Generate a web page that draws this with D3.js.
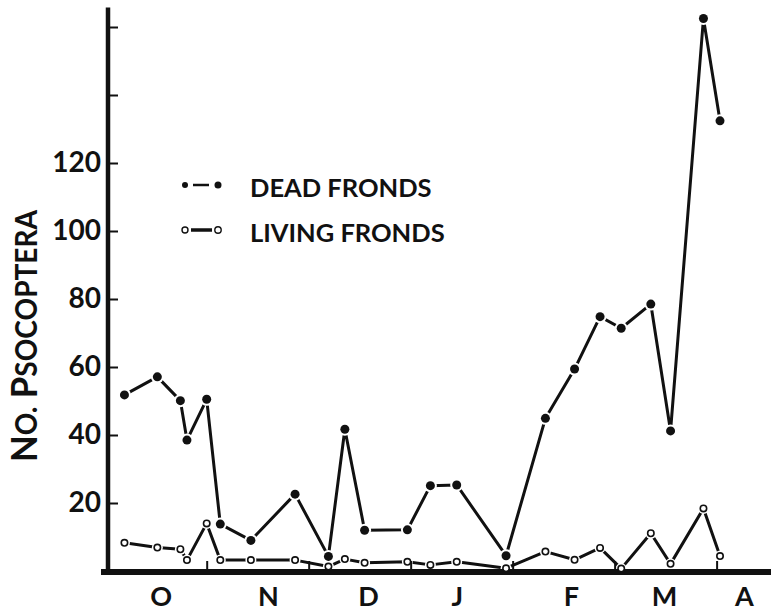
<!DOCTYPE html>
<html>
<head>
<meta charset="utf-8">
<script src="https://cdn.jsdelivr.net/npm/d3@7"></script>
<style>
  body { margin: 0; background: #fff; }
  svg { display: block; }
</style>
</head>
<body>
<svg id="chart" width="771" height="614"></svg>
<script>
// Sampling dates (October to April) and mean number of Psocoptera per sample
const sampleDates = ["Oct 7", "Oct 17", "Oct 24", "Oct 26", "Nov 1", "Nov 5", "Nov 14", "Nov 27",
  "Dec 7", "Dec 12", "Dec 18", "Dec 31", "Jan 7", "Jan 15", "Jan 30", "Feb 10", "Feb 18",
  "Feb 25", "Mar 3", "Mar 12", "Mar 18", "Mar 28", "Apr 2"];
const deadFronds = [51.8, 57.1, 50.1, 38.5, 50.5, 13.8, 9.0, 22.6, 4.3, 41.7, 12.0, 12.1,
  25.1, 25.3, 4.5, 44.9, 59.4, 74.8, 71.4, 78.5, 41.2, 162.5, 132.4];
const livingFronds = [8.3, 6.9, 6.4, 3.2, 14.0, 3.2, 3.2, 3.2, 1.3, 3.5, 2.4, 2.7,
  1.8, 2.7, 0.8, 5.7, 3.3, 6.8, 0.7, 11.1, 2.1, 18.4, 4.4];

// Calendar used on the time axis: every month gets the same width
const months = ["Oct", "Nov", "Dec", "Jan", "Feb", "Mar", "Apr"];
const monthDays = [31, 30, 31, 31, 28, 31, 30];
const monthLetters = ["O", "N", "D", "J", "F", "M", "A"];
const monthLetterDates = ["Oct 18", "Nov 19", "Dec 19", "Jan 15", "Feb 17", "Mar 16", "Apr 9"];
const monthBoundaries = ["Nov 1", "Dec 1", "Jan 1", "Feb 1", "Mar 1", "Apr 1"];
const axisStart = "Oct 2";
const axisEnd = "Apr 17";

// Count axis
const yTicks = [20, 40, 60, 80, 100, 120, 140, 160];
const yTickLabels = ["20", "40", "60", "80", "100", "120", "", ""];
const yMax = 166;

const seriesNames = ["DEAD FRONDS", "LIVING FRONDS"];
const yTitleParts = [["N", "big"], ["O.", "small"], [" P", "big"], ["SOCOPTERA", "small"]];

// "Oct 7" -> months since 1 October
function monthPos(s) {
  const [m, d] = s.split(" ");
  const i = months.indexOf(m);
  return i + (+d - 1) / monthDays[i];
}

const FONT = "Lato, 'Open Sans', 'DejaVu Sans', sans-serif";
const svg = d3.select("#chart");

const plot = { left: 108, right: 771, bottom: 571 };

const x = d3.scaleLinear()
  .domain([monthPos(axisStart), monthPos(axisEnd)])
  .range([plot.left, plot.right]);
const y = d3.scaleLinear()
  .domain([0, yMax])
  .range([plot.bottom, plot.bottom - yMax * 3.4]);

const dead = sampleDates.map((d, i) => ({ x: monthPos(d), v: deadFronds[i] }));
const living = sampleDates.map((d, i) => ({ x: monthPos(d), v: livingFronds[i] }));

const line = d3.line().x(d => x(d.x)).y(d => y(d.v));

// Series lines
const gLines = svg.append("g");
[dead, living].forEach(s => {
  gLines.append("path")
    .attr("d", line(s))
    .attr("fill", "none")
    .attr("stroke", "#111")
    .attr("stroke-width", 3)
    .attr("stroke-linejoin", "round");
});

// White halos leave a small gap between the lines and each marker
const gHalo = svg.append("g");
dead.forEach(d => gHalo.append("circle")
  .attr("cx", x(d.x)).attr("cy", y(d.v)).attr("r", 6.5).attr("fill", "#fff"));
living.forEach(d => gHalo.append("circle")
  .attr("cx", x(d.x)).attr("cy", y(d.v)).attr("r", 5.5).attr("fill", "#fff"));

// Y axis: ticks pointing into the plot, labels on the left
const yAxis = d3.axisLeft(y)
  .tickValues(yTicks)
  .tickFormat((d, i) => yTickLabels[i])
  .tickSizeInner(-10)
  .tickSizeOuter(0)
  .tickPadding(7);
const gy = svg.append("g")
  .attr("transform", `translate(${plot.left},0)`)
  .call(yAxis);
gy.select(".domain").remove();
gy.selectAll(".tick line").attr("stroke", "#111").attr("stroke-width", 2);
gy.selectAll(".tick text")
  .attr("fill", "#111")
  .style("font-family", FONT)
  .style("font-weight", "bold")
  .style("font-size", "28px");

// X axis: short upward ticks at month boundaries
const xAxis = d3.axisBottom(x)
  .tickValues(monthBoundaries.map(monthPos))
  .tickFormat("")
  .tickSizeInner(-10)
  .tickSizeOuter(0);
const gx = svg.append("g")
  .attr("transform", `translate(0,${plot.bottom})`)
  .call(xAxis);
gx.select(".domain").remove();
gx.selectAll(".tick line").attr("stroke", "#111").attr("stroke-width", 2);

// Month initials
const xLabels = d3.axisBottom(x)
  .tickValues(monthLetterDates.map(monthPos))
  .tickFormat((d, i) => monthLetters[i])
  .tickSize(0)
  .tickPadding(16);
const gxl = svg.append("g")
  .attr("transform", `translate(0,${plot.bottom})`)
  .call(xLabels);
gxl.select(".domain").remove();
gxl.selectAll(".tick text")
  .attr("fill", "#111")
  .style("font-family", FONT)
  .style("font-weight", "bold")
  .style("font-size", "27px");

// Axis lines
svg.append("line")
  .attr("x1", plot.left).attr("x2", plot.left)
  .attr("y1", y(yMax) + 1).attr("y2", plot.bottom + 2)
  .attr("stroke", "#111").attr("stroke-width", 4.5);
svg.append("line")
  .attr("x1", plot.left - 7).attr("x2", plot.right)
  .attr("y1", plot.bottom + 1).attr("y2", plot.bottom + 1)
  .attr("stroke", "#111").attr("stroke-width", 6);

// Markers
const gMarks = svg.append("g");
dead.forEach(d => gMarks.append("circle")
  .attr("cx", x(d.x)).attr("cy", y(d.v)).attr("r", 4.5).attr("fill", "#111"));
living.forEach(d => gMarks.append("circle")
  .attr("cx", x(d.x)).attr("cy", y(d.v)).attr("r", 3.2)
  .attr("fill", "#fff").attr("stroke", "#111").attr("stroke-width", 1.6));

// Legend
const legend = svg.append("g").attr("transform", "translate(185,185)");
const rowGap = 45;
// dead fronds key: dot, dash, dot
const k0 = legend.append("g");
k0.append("circle").attr("cx", 0).attr("cy", 0).attr("r", 3).attr("fill", "#111");
k0.append("line").attr("x1", 8).attr("x2", 24).attr("y1", 0).attr("y2", 0)
  .attr("stroke", "#111").attr("stroke-width", 2.5);
k0.append("circle").attr("cx", 33).attr("cy", 0).attr("r", 3.5).attr("fill", "#111");
// living fronds key: open circle, dash, open circle
const k1 = legend.append("g").attr("transform", `translate(0,${rowGap})`);
k1.append("circle").attr("cx", 0).attr("cy", 0).attr("r", 3)
  .attr("fill", "#fff").attr("stroke", "#111").attr("stroke-width", 1.4);
k1.append("line").attr("x1", 6).attr("x2", 27).attr("y1", 0).attr("y2", 0)
  .attr("stroke", "#111").attr("stroke-width", 3.5);
k1.append("circle").attr("cx", 33).attr("cy", 0).attr("r", 3.2)
  .attr("fill", "#fff").attr("stroke", "#111").attr("stroke-width", 1.4);

legend.selectAll("text.series")
  .data(seriesNames)
  .join("text")
  .attr("class", "series")
  .attr("x", 65)
  .attr("y", (d, i) => i * rowGap + 12)
  .attr("fill", "#111")
  .style("font-family", FONT)
  .style("font-weight", "bold")
  .style("font-size", "25.5px")
  .text(d => d);

// Y axis title in small capitals
const title = svg.append("text")
  .attr("transform", "translate(37,336) rotate(-90)")
  .attr("text-anchor", "middle")
  .attr("textLength", 252)
  .attr("lengthAdjust", "spacingAndGlyphs")
  .attr("fill", "#111")
  .style("font-family", FONT)
  .style("font-weight", "bold");
title.selectAll("tspan")
  .data(yTitleParts)
  .join("tspan")
  .style("font-size", d => d[1] === "big" ? "37px" : "30px")
  .text(d => d[0]);
</script>
</body>
</html>
